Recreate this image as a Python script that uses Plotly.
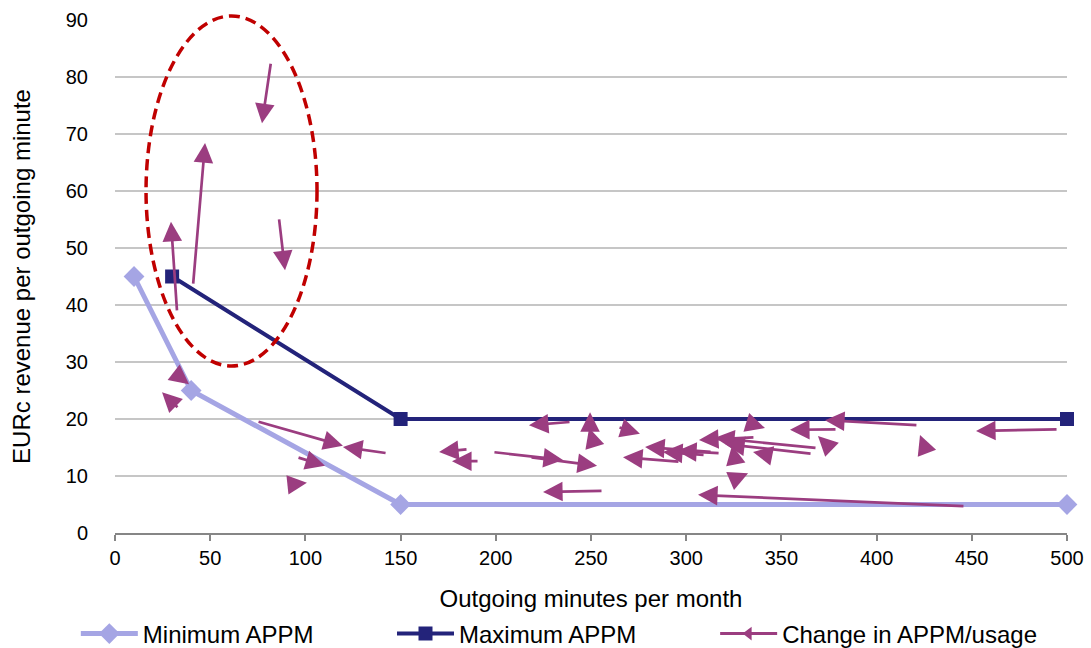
import plotly.graph_objects as go

# Price floor / ceiling curves (EURc per outgoing minute vs. outgoing minutes per month)
min_x = [10, 40, 150, 500]
min_y = [45, 25, 5, 5]
max_x = [30, 150, 500]
max_y = [45, 20, 20]

# Movement of each offer: start point (tail) and end point (head)
tail_x = [81.9, 41.0, 32.6, 86.1, 32.0, 33.6, 74.6, 142.9, 95.6, 95.1,
          185.4, 191.2, 239.5, 249.5, 251.1, 264.2, 198.5, 218.0, 296.7, 256.3,
          313.6, 309.9, 317.8, 336.1, 368.7, 366.1, 345.6, 325.6, 334.6, 379.2,
          372.9, 421.7, 425.4, 495.3, 446.4, 325.6]
tail_y = [82.6, 43.5, 38.8, 55.3, 27.9, 21.8, 19.6, 14.0, 13.3, 8.6,
          14.7, 12.6, 19.5, 18.8, 16.1, 18.6, 14.2, 13.3, 12.5, 7.4,
          14.2, 13.7, 14.0, 16.8, 14.9, 13.9, 13.5, 12.8, 19.1, 18.2,
          15.8, 18.9, 14.9, 18.2, 4.7, 9.5]
head_x = [77.2, 47.3, 29.4, 89.3, 38.9, 24.7, 119.7, 119.7, 110.3, 100.8,
          170.2, 177.0, 217.4, 249.5, 249.0, 275.7, 235.3, 253.2, 266.8, 224.8,
          278.4, 287.8, 295.2, 306.7, 315.1, 320.4, 335.1, 324.1, 341.4, 354.5,
          369.2, 372.9, 422.8, 452.2, 306.2, 332.5]
head_y = [71.9, 68.4, 54.6, 46.1, 26.1, 24.7, 15.3, 15.1, 11.8, 8.8,
          14.2, 12.6, 18.9, 21.2, 18.4, 17.4, 12.8, 11.8, 13.3, 7.2,
          15.1, 14.2, 14.4, 16.3, 16.7, 15.6, 14.2, 15.4, 18.4, 18.1,
          17.0, 19.8, 17.2, 17.9, 6.7, 10.5]

# Highlighted low-usage cluster (data units)
highlight_x = [16.3, 106.1]
highlight_y = [29.3, 90.7]

x_range = [0, 500]
y_range = [0, 90]
x_ticks = [0, 50, 100, 150, 200, 250, 300, 350, 400, 450, 500]
y_ticks = [0, 10, 20, 30, 40, 50, 60, 70, 80, 90]

MIN_COLOR = "#A5A5E4"
MAX_COLOR = "#23237A"
ARROW_COLOR = "#9B3D80"
FONT = "Liberation Sans, Arial, sans-serif"

fig = go.Figure()

fig.add_trace(go.Scatter(
    x=min_x, y=min_y, name="Minimum APPM", mode="lines+markers",
    line=dict(color=MIN_COLOR, width=5),
    marker=dict(symbol="diamond", size=16, color=MIN_COLOR),
    cliponaxis=False, legend="legend",
))
fig.add_trace(go.Scatter(
    x=max_x, y=max_y, name="Maximum APPM", mode="lines+markers",
    line=dict(color=MAX_COLOR, width=4),
    marker=dict(symbol="square", size=14, color=MAX_COLOR),
    cliponaxis=False, legend="legend2",
))
# legend key for the arrows
fig.add_trace(go.Scatter(
    x=[None], y=[None], name="Change in APPM/usage", mode="lines+markers",
    line=dict(color=ARROW_COLOR, width=3),
    marker=dict(symbol="triangle-left", size=12, color=ARROW_COLOR),
    legend="legend3",
))

annotations = []
for tx, ty, hx, hy in zip(tail_x, tail_y, head_x, head_y):
    annotations.append(dict(
        x=hx, y=hy, ax=tx, ay=ty, xref="x", yref="y", axref="x", ayref="y",
        text="", showarrow=True, arrowhead=2, arrowsize=1.45, arrowwidth=2.7,
        arrowcolor=ARROW_COLOR, standoff=0, startstandoff=0,
    ))


def to_paper(v, rng):
    return (v - rng[0]) / (rng[1] - rng[0])


# paper-referenced so the ellipse may run past the top of the plot area
fig.add_shape(
    type="circle", xref="paper", yref="paper",
    x0=to_paper(highlight_x[0], x_range), x1=to_paper(highlight_x[1], x_range),
    y0=to_paper(highlight_y[0], y_range), y1=to_paper(highlight_y[1], y_range),
    line=dict(color="#C00000", width=3.5, dash="11px,6px"),
    layer="above",
)

legend_common = dict(
    orientation="h", yref="container", y=0.0216, yanchor="middle",
    xref="container", xanchor="left",
    font=dict(family=FONT, size=24, color="#000000"),
    bgcolor="rgba(0,0,0,0)", itemwidth=57, tracegroupgap=0,
)

fig.update_layout(
    width=1091, height=648,
    margin=dict(l=115, r=24, t=20, b=115, autoexpand=False),
    paper_bgcolor="white", plot_bgcolor="white",
    font=dict(family=FONT, size=20, color="#000000"),
    annotations=annotations,
    showlegend=True,
    legend=dict(x=0.0695, **legend_common),
    legend2=dict(x=0.3593, **legend_common),
    legend3=dict(x=0.6555, **legend_common),
    xaxis=dict(
        range=x_range, tickvals=x_ticks, ticktext=[str(v) for v in x_ticks],
        showgrid=False, zeroline=False, automargin=False,
        showline=True, linecolor="#868686", linewidth=1.5,
        ticks="outside", ticklen=6, tickwidth=1.5, tickcolor="#868686",
        tickfont=dict(family=FONT, size=20),
        title=dict(text="Outgoing minutes per month", font=dict(family=FONT, size=24), standoff=22),
    ),
    yaxis=dict(
        range=y_range, tickvals=y_ticks, ticktext=[str(v) for v in y_ticks],
        showgrid=True, gridcolor="#C6C6C6", gridwidth=1.5, zeroline=False,
        showline=False, ticks="", ticklabelstandoff=26, automargin=False,
        tickfont=dict(family=FONT, size=20),
        title=dict(text="EURc revenue per outgoing minute", font=dict(family=FONT, size=24), standoff=28),
    ),
)

fig.write_html("out.html")
